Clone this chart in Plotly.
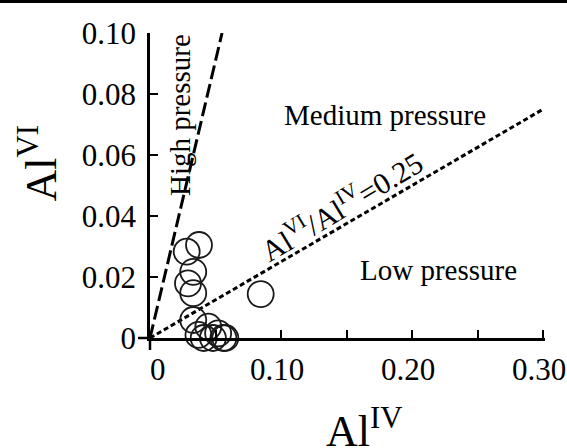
import plotly.graph_objects as go

# ---- data ----
al_iv = [0.0374, 0.028, 0.033, 0.029, 0.033,
         0.033, 0.0445, 0.037, 0.041, 0.048, 0.052, 0.056, 0.0575,
         0.0845]
al_vi = [0.0305, 0.0283, 0.0217, 0.0179, 0.0147,
         0.0059, 0.0037, 0.001, 0.0, 0.0, 0.0015, 0.0, 0.0,
         0.0144]

high_x = [0.0, 0.055]
high_y = [0.0, 0.10]
low_x = [0.0, 0.30]
low_y = [0.0, 0.075]

x_tickvals = [0, 0.10, 0.20, 0.30]
x_ticktext = ["&nbsp;&nbsp;0", "0.10&nbsp;", "0.20&nbsp;", "0.30&nbsp;"]
y_tickvals = [0, 0.02, 0.04, 0.06, 0.08, 0.10]
y_ticktext = ["0", "0.02", "0.04", "0.06", "0.08", "0.10"]

FONT = "Liberation Serif"

# plot area at window px x 150..545, y 33..338
L, T = 150, 33
PW, PH = 395, 305
R = 567 - L - PW
B = 448 - T - PH

fig = go.Figure()
fig.add_trace(go.Scatter(x=high_x, y=high_y, mode="lines",
                         line=dict(color="black", width=3, dash="14px,5px"),
                         hoverinfo="skip"))
fig.add_trace(go.Scatter(x=low_x, y=low_y, mode="lines",
                         line=dict(color="black", width=3, dash="5px,3px"),
                         hoverinfo="skip"))
fig.add_trace(go.Scatter(x=al_iv, y=al_vi, mode="markers", cliponaxis=False,
                         marker=dict(symbol="circle-open", size=26,
                                     color="#1a1a1a", line=dict(width=1.8))))

fig.update_layout(
    width=567, height=448,
    margin=dict(l=L, r=R, t=T, b=B, autoexpand=False),
    paper_bgcolor="white", plot_bgcolor="white",
    showlegend=False,
    font=dict(family=FONT, color="black", size=28),
    xaxis=dict(range=[0, 0.3015], showgrid=False, zeroline=False,
               showline=True, linecolor="black", linewidth=2.5,
               ticks="inside", ticklen=8, tickwidth=2, tickcolor="black",
               tickvals=x_tickvals, ticktext=x_ticktext,
               minor=dict(dtick=0.05, tick0=0, ticks="inside", ticklen=8,
                          tickwidth=2, tickcolor="black"),
               ticklabelstandoff=2, automargin=False, ticklabeloverflow="allow",
               tickfont=dict(family=FONT, size=31)),
    yaxis=dict(range=[0, 0.10], showgrid=False, zeroline=False,
               showline=True, linecolor="black", linewidth=2.5,
               ticks="inside", ticklen=8, tickwidth=2, tickcolor="black",
               tickvals=y_tickvals, ticktext=y_ticktext,
               ticklabelstandoff=5, automargin=False, ticklabeloverflow="allow",
               tickfont=dict(family=FONT, size=31)),
)

# axis overhangs and top border
fig.add_shape(type="line", xref="paper", yref="paper", x0=-12/PW, x1=0,
              y0=0, y1=0, line=dict(color="black", width=2.5))
fig.add_shape(type="line", xref="paper", yref="paper", x0=0, x1=0,
              y0=-12/PH, y1=0, line=dict(color="black", width=2.5))
fig.add_shape(type="line", xref="paper", yref="paper", x0=-L/PW, x1=1 + R/PW,
              y0=1 + 31.5/PH, y1=1 + 31.5/PH, line=dict(color="black", width=3))

ann = dict(showarrow=False, font=dict(family=FONT, size=29, color="black"))
fig.add_annotation(x=0.0229, y=0.0731, text="High pressure", textangle=-90, **ann)
fig.add_annotation(x=0.179, y=0.0731, text="Medium pressure", **ann)
fig.add_annotation(x=0.220, y=0.0223, text="Low pressure", **ann)
fig.add_annotation(x=0.146, y=0.0435, text="Al<sup>VI</sup>/Al<sup>IV</sup>=0.25",
                   textangle=-31, showarrow=False,
                   font=dict(family=FONT, size=30, color="black"))

fig.add_annotation(xref="paper", yref="paper", x=(8 - 150) / PW, y=(338 - 163) / PH,
                   text="Al<sup>VI</sup>", textangle=-90, showarrow=False,
                   font=dict(family=FONT, size=44, color="black"))
fig.add_annotation(xref="paper", yref="paper", x=(364 - 150) / PW, y=(338 - 458) / PH,
                   text="Al<sup>IV</sup>", showarrow=False,
                   font=dict(family=FONT, size=44, color="black"))

fig.write_html("out.html", config={"displayModeBar": False},
               post_script="document.body.style.margin='0';")
